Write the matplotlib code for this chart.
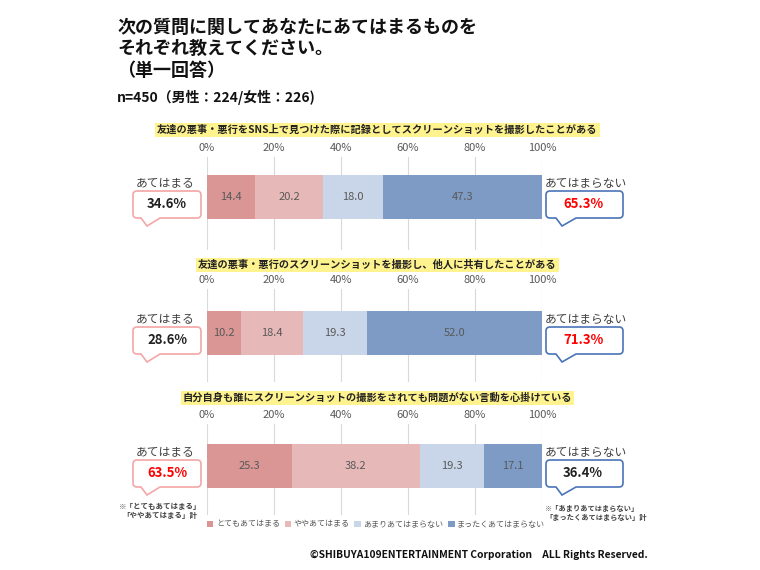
import numpy as np
import matplotlib
matplotlib.use('Agg')
import matplotlib.pyplot as plt
from matplotlib.path import Path
from matplotlib.patches import PathPatch
from matplotlib.transforms import Affine2D

plt.rcParams['font.family'] = ['Noto Sans CJK JP', 'DejaVu Sans']

# ---- data ----
questions = [
    '友達の悪事・悪行をSNS上で見つけた際に記録としてスクリーンショットを撮影したことがある',
    '友達の悪事・悪行のスクリーンショットを撮影し、他人に共有したことがある',
    '自分自身も誰にスクリーンショットの撮影をされても問題がない言動を心掛けている',
]
categories = ['とてもあてはまる', 'ややあてはまる', 'あまりあてはまらない', 'まったくあてはまらない']
very = [14.4, 10.2, 25.3]
somewhat = [20.2, 18.4, 38.2]
not_much = [18.0, 19.3, 19.3]
not_at_all = [47.3, 52.0, 17.1]
agree_total = [34.6, 28.6, 63.5]
disagree_total = [65.3, 71.3, 36.4]
ticks = [0, 20, 40, 60, 80, 100]

colors = ['#d99694', '#e6b9b8', '#c9d5e8', '#7d9bc4']
pink_edge = '#f4a6a6'
blue_edge = '#4a74b8'

W, H = 760, 570
fig = plt.figure(figsize=(W / 100, H / 100), dpi=100)
px = Affine2D().scale(1 / W, 1 / H) + fig.transFigure


def fy(y):
    return H - y


def callout(x0, y0, x1, y1, t0, t1, tip, edge):
    '''Rounded speech bubble in pixel coords (y down).'''
    r = 4
    pts = [(x0 + r, y0), (x1 - r, y0), (x1, y0), (x1, y0 + r), (x1, y1 - r), (x1, y1),
           (x1 - r, y1), (t1, y1), tip, (t0, y1), (x0 + r, y1), (x0, y1), (x0, y1 - r),
           (x0, y0 + r), (x0, y0), (x0 + r, y0), (x0 + r, y0)]
    codes = [Path.MOVETO, Path.LINETO, Path.CURVE3, Path.CURVE3, Path.LINETO, Path.CURVE3,
             Path.CURVE3, Path.LINETO, Path.LINETO, Path.LINETO, Path.LINETO, Path.CURVE3,
             Path.CURVE3, Path.LINETO, Path.CURVE3, Path.CURVE3, Path.CLOSEPOLY]
    verts = [(x, fy(y)) for x, y in pts]
    fig.patches.append(PathPatch(Path(verts, codes), facecolor='white', edgecolor=edge,
                                 lw=1.2, transform=px, zorder=3))


# ---- header ----
fig.text(117, fy(27), '次の質問に関してあなたにあてはまるものを', transform=px,
         fontsize=13, fontweight='bold', va='center', color='#111111')
fig.text(117, fy(48.5), 'それぞれ教えてください。', transform=px,
         fontsize=13, fontweight='bold', va='center', color='#111111')
fig.text(117, fy(70), '（単一回答）', transform=px,
         fontsize=13, fontweight='bold', va='center', color='#111111')
fig.text(117, fy(97), 'n=450（男性：224/女性：226)', transform=px,
         fontsize=10, fontweight='bold', va='center', color='#111111')

# ---- panels ----
panels = [(157, 250, 197, 130), (289, 382, 333, 265), (424, 515, 466, 398)]
bar_h = 44
x_left, x_right = 207, 542

bars = None
for i, (top, bottom, c, ty) in enumerate(panels):
    ax = fig.add_axes([x_left / W, 1 - bottom / H, (x_right - x_left) / W, (bottom - top) / H])
    vals = [very[i], somewhat[i], not_much[i], not_at_all[i]]
    left = np.concatenate([[0], np.cumsum(vals)[:-1]])
    bars = ax.barh([0] * 4, vals, left=left, height=bar_h, color=colors,
                   edgecolor='none', zorder=2)
    for b, v in zip(bars, vals):
        ax.text(b.get_x() + b.get_width() / 2, 0, f'{v:.1f}', ha='center', va='center',
                fontsize=8, color='#595959', zorder=3)
    ax.set_xlim(0, 100)
    ax.set_ylim(-(bottom - c), c - top)
    ax.set_xticks(ticks)
    ax.set_xticklabels([f'{t}%' for t in ticks])
    ax.xaxis.tick_top()
    ax.tick_params(axis='x', length=0, pad=3, labelsize=8, labelcolor='#595959')
    ax.set_yticks([])
    ax.grid(axis='x', color='#d9d9d9', lw=0.8, zorder=0)
    for s in ax.spines.values():
        s.set_visible(False)
    ax.patch.set_alpha(0)

    # question title with yellow highlight
    fig.text((x_left + x_right) / 2 + 3, fy(ty), questions[i], transform=px, ha='center',
             va='center', fontsize=7.35, fontweight='bold', color='#222222',
             bbox=dict(boxstyle='square,pad=0.2', fc='#fff38f', ec='none'))

    # callouts
    callout(133, c - 6, 201, c + 21, 141, 160, (147, c + 29), pink_edge)
    callout(546, c - 6, 623, c + 21, 556, 576, (562, c + 29), blue_edge)
    fig.text(165, fy(c - 14), 'あてはまる', transform=px, ha='center', va='center',
             fontsize=8.5, color='#404040')
    fig.text(545, fy(c - 14), 'あてはまらない', transform=px, ha='left', va='center',
             fontsize=8.5, color='#404040')
    agree_red = agree_total[i] > disagree_total[i]
    fig.text(167, fy(c + 7), f'{agree_total[i]:.1f}%', transform=px, ha='center', va='center',
             fontsize=9.5, fontweight='bold', color='#ff0000' if agree_red else '#222222',
             zorder=4)
    fig.text(583, fy(c + 7), f'{disagree_total[i]:.1f}%', transform=px, ha='center',
             va='center', fontsize=9.5, fontweight='bold',
             color='#222222' if agree_red else '#ff0000', zorder=4)

# ---- footnotes ----
fig.text(160, fy(511), '※「とてもあてはまる」\n「ややあてはまる」計', transform=px,
         ha='center', va='center', fontsize=5.4, fontweight='bold', color='#404040',
         multialignment='center', linespacing=1.3)
fig.text(545, fy(513), '※「あまりあてはまらない」\n「まったくあてはまらない」計', transform=px,
         ha='left', va='center', fontsize=5.2, fontweight='bold', color='#404040',
         linespacing=1.35)

# ---- legend ----
fig.legend(bars, categories, loc='center', bbox_to_anchor=(376 / W, 1 - 524 / H),
           ncol=4, frameon=False, fontsize=5.8, labelcolor='#595959', handlelength=0.8,
           handleheight=0.8, handletextpad=0.3, columnspacing=0.6)

fig.text(648, fy(555), '©SHIBUYA109ENTERTAINMENT Corporation　ALL Rights Reserved.',
         transform=px, ha='right', va='center', fontsize=7.4, fontweight='bold',
         color='#111111')

fig.savefig('out.png', dpi=100)
